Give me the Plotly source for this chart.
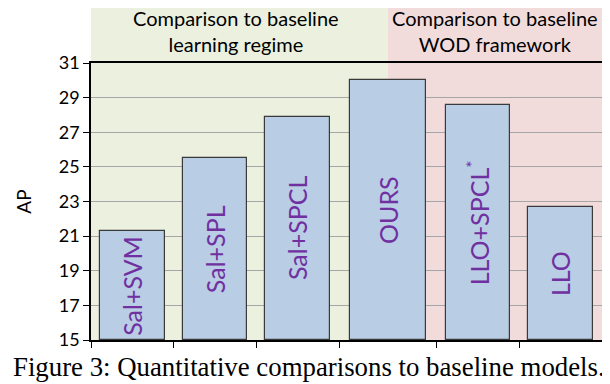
import numpy as np
import plotly.graph_objects as go

categories = ["Sal+SVM", "Sal+SPL", "Sal+SPCL", "OURS", "LLO+SPCL<sup>*</sup>", "LLO"]
ap_values = [21.3, 25.5, 27.9, 30.0, 28.6, 22.7]
slot_widths = [1.0, 1.0, 1.0, 1.18, 1.0, 1.0]
y_ticks = [15, 17, 19, 21, 23, 25, 27, 29, 31]
header_left = "Comparison to baseline<br>learning regime"
header_right = "Comparison to baseline<br>WOD framework"
caption = "Figure 3: Quantitative comparisons to baseline models."

y_min, y_max = 15, 31
edges = np.concatenate([[0], np.cumsum(slot_widths)])
centers = (edges[:-1] + edges[1:]) / 2
total = edges[-1]
bar_w = [0.78 * w for w in slot_widths]

# page body adds an 8px offset; figure sized to fit the 610x384 window
W, H = 602, 376
ml, mr, mt, mb = 83, 8, 55, 44
pw, ph = W - ml - mr, H - mt - mb

fig = go.Figure()
fig.add_trace(go.Bar(
    x=centers, y=[v - y_min for v in ap_values], base=y_min, width=bar_w,
    marker=dict(color="#b9cde5", line=dict(color="#3a3a3a", width=1.2)),
    hoverinfo="skip",
))

for cx, v, lab in zip(centers, ap_values, categories):
    fig.add_annotation(x=cx, y=(y_min + v) / 2, text=lab, textangle=-90, showarrow=False,
                       xanchor="center", yanchor="middle",
                       font=dict(family="Lato", size=25, color="#7030a0"))

split = centers[3] / total
right_end = 1 + 6 / pw
top = 1 + mt / ph
fig.add_shape(type="rect", xref="paper", yref="paper", x0=0, x1=split, y0=0, y1=top,
              fillcolor="#ebf1de", line_width=0, layer="below")
fig.add_shape(type="rect", xref="paper", yref="paper", x0=split, x1=right_end, y0=0, y1=top,
              fillcolor="#f2dcdb", line_width=0, layer="below")

hfont = dict(family="Lato", size=20, color="black")
fig.add_annotation(xref="paper", yref="paper", x=split / 2 - 0.006, y=1 + 32 / ph,
                   text=header_left, showarrow=False, font=hfont, xanchor="center", yanchor="middle")
fig.add_annotation(xref="paper", yref="paper", x=(split + 1) / 2, y=1 + 32 / ph,
                   text=header_right, showarrow=False, font=hfont, xanchor="center", yanchor="middle")
fig.add_annotation(xref="paper", yref="paper", x=(W / 2 - ml) / pw, y=-27 / ph,
                   text=caption, showarrow=False, xanchor="center", yanchor="middle",
                   font=dict(family="Liberation Serif", size=26.8, color="black"))

fig.update_layout(
    width=W, height=H, margin=dict(l=ml, r=mr, t=mt, b=mb, autoexpand=False),
    paper_bgcolor="white", plot_bgcolor="rgba(0,0,0,0)",
    showlegend=False, bargap=0,
    xaxis=dict(range=[0, total], tickvals=list(edges), ticktext=[""] * len(edges),
               ticks="outside", ticklen=6, tickcolor="black", showgrid=False, automargin=False,
               showline=True, linecolor="black", linewidth=1.5, mirror=True, zeroline=False),
    yaxis=dict(range=[y_min, y_max], tickvals=y_ticks, ticks="outside", ticklen=6, tickcolor="black",
               showgrid=True, gridcolor="#a6a6a6", gridwidth=1.2, automargin=False,
               showline=True, linecolor="black", linewidth=1.5, mirror=True, zeroline=False,
               tickfont=dict(family="Lato", size=18, color="black"),
               title=dict(text="AP", font=dict(family="Lato", size=19, color="black"), standoff=22)),
)
fig.write_html("out.html")
